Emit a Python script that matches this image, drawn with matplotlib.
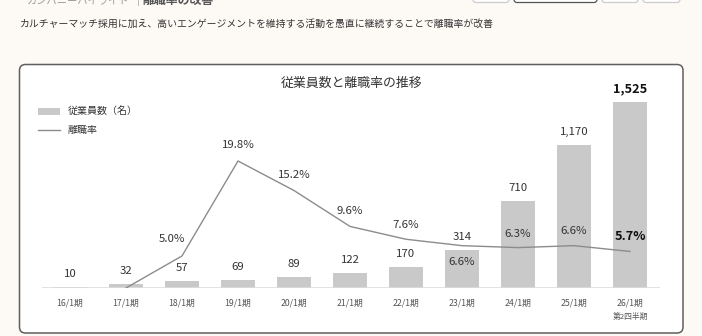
import numpy as np
import matplotlib

matplotlib.use("Agg")
import matplotlib.pyplot as plt
from matplotlib.patches import FancyBboxPatch, Rectangle
from matplotlib.lines import Line2D

plt.rcParams["font.family"] = ["Noto Sans CJK JP", "DejaVu Sans"]

periods = ["16/1期", "17/1期", "18/1期", "19/1期", "20/1期", "21/1期",
           "22/1期", "23/1期", "24/1期", "25/1期", "26/1期"]
employees = [10, 32, 57, 69, 89, 122, 170, 314, 710, 1170, 1525]
turnover = [np.nan, 0.0, 5.0, 19.8, 15.2, 9.6, 7.6, 6.6, 6.3, 6.6, 5.7]
turnover_labels = [None, None, "5.0%", "19.8%", "15.2%", "9.6%", "7.6%",
                   "6.6%", "6.3%", "6.6%", "5.7%"]
# label offsets in pixels (dx, dy) relative to each line point
turnover_offsets = [None, None, (-10, 17), (0, 16), (0, 16), (0, 15), (0, 14),
                    (0, -16), (0, 14), (0, 15), (0, 15)]

W, H = 702, 336
BG = "#fdfaf6"
BAR = "#c9c9c9"
LINE = "#8c8c8c"
TEXT = "#333333"

fig = plt.figure(figsize=(W / 100, H / 100), dpi=100)
fig.patch.set_facecolor(BG)

# pixel-space canvas for page decoration
bg = fig.add_axes([0, 0, 1, 1])
bg.set_xlim(0, W)
bg.set_ylim(H, 0)
bg.axis("off")

# header (cut off at the top)
bg.text(27, 0.5, "カンパニーハイライト", fontsize=7.4, color="#9a9a9a", va="center", ha="left")
bg.text(138, 0.5, "|", fontsize=7.4, color="#9a9a9a", va="center", ha="center")
bg.text(143, 0.5, "離職率の改善", fontsize=8.6, color="#555555", va="center", ha="left",
        fontweight="bold")
for x0, x1, ec in [(473, 509, "#cccccc"), (514, 597, "#555555"), (602, 638, "#cccccc"), (643, 680, "#cccccc")]:
    bg.add_patch(FancyBboxPatch((x0, -10), x1 - x0, 12.5, boxstyle="round,pad=0,rounding_size=3",
                                fc="white", ec=ec, lw=0.9))

bg.text(20, 24, "カルチャーマッチ採用に加え、高いエンゲージメントを維持する活動を愚直に継続することで離職率が改善",
        fontsize=7.1, color=TEXT, va="center", ha="left")

# card
bg.add_patch(FancyBboxPatch((19.5, 64.5), 663.5, 268.5, boxstyle="round,pad=0,rounding_size=6",
                            fc="white", ec="#5f5f5f", lw=1.1))
bg.text(352, 83, "従業員数と離職率の推移", fontsize=9.3, color=TEXT, va="center", ha="center")

# legend
bg.add_patch(Rectangle((38, 107.5), 22, 7, fc=BAR, ec="none"))
bg.text(68, 111, "従業員数（名）", fontsize=7.2, color=TEXT, va="center", ha="left")
bg.add_line(Line2D([38, 60], [130, 130], color=LINE, lw=1))
bg.text(68, 130, "離職率", fontsize=7.2, color=TEXT, va="center", ha="left")

# chart axes
left, right, base, top = 42, 660, 288, 88
ax = fig.add_axes([left / W, 1 - base / H, (right - left) / W, (base - top) / H])
ax.patch.set_alpha(0)
x = np.arange(len(periods))
step = 56
ax.set_xlim(-(70 - left) / step, (right - 70) / step)
bar_px = 186 / 1525
ax.set_ylim(0, (base - top) / bar_px)
ax.bar(x, employees, width=0.61, color=BAR, zorder=2)
ax.axhline(0, color="#dddddd", lw=1.2, zorder=3)
for spine in ax.spines.values():
    spine.set_visible(False)
ax.set_yticks([])
ax.set_xticks(x)
ax.set_xticklabels(periods, fontsize=6.3, color="#555555")
ax.tick_params(axis="x", length=0, pad=7.5)
ax.text(x[-1], -0.145, "第2四半期", transform=ax.get_xaxis_transform(), fontsize=5.6,
        color="#555555", ha="center", va="center")

for i, v in enumerate(employees):
    last = i == len(employees) - 1
    ax.annotate(f"{v:,}", (x[i], v), xytext=(0, 13 * 0.72), textcoords="offset points",
                ha="center", va="center", fontsize=9.2 if last else 8.2,
                fontweight="bold" if last else "normal", color="#111111" if last else TEXT, zorder=5)

ax2 = ax.twinx()
ax2.set_ylim(0, (base - top) / (127 / 19.8))
ax2.set_yticks([])
for spine in ax2.spines.values():
    spine.set_visible(False)
ax2.plot(x, turnover, color=LINE, lw=1.0, zorder=4)
for i, lab in enumerate(turnover_labels):
    if lab is None:
        continue
    dx, dy = turnover_offsets[i]
    last = i == len(turnover_labels) - 1
    ax2.annotate(lab, (x[i], turnover[i]), xytext=(dx * 0.72, dy * 0.72), textcoords="offset points",
                 ha="center", va="center", fontsize=9.2 if last else 8.2,
                 fontweight="bold" if last else "normal", color="#111111" if last else TEXT, zorder=5)

fig.savefig("out.png", dpi=100, facecolor=BG)
